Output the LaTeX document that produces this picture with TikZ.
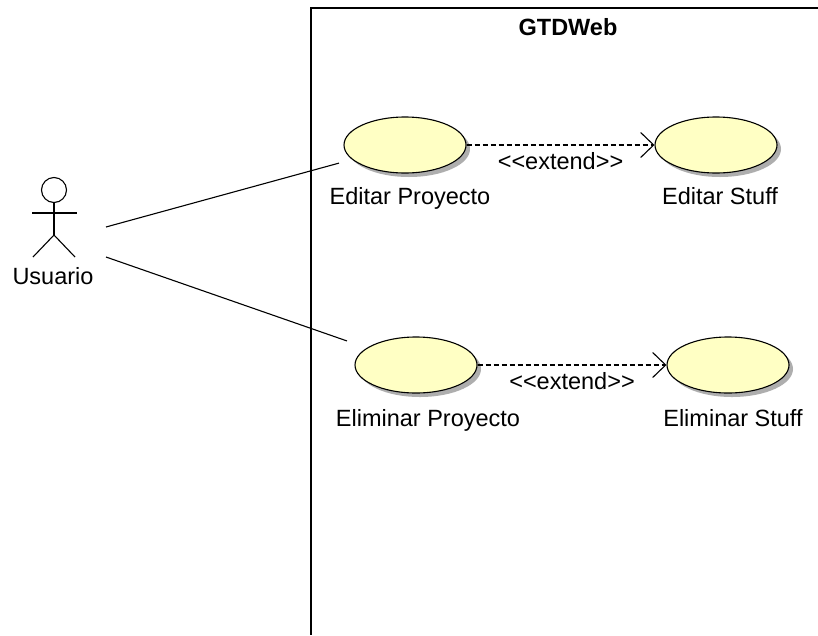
\documentclass[tikz,border=0pt]{standalone}
\usepackage{fontspec}
\setmainfont{Liberation Sans}[Ligatures=TeXOff]
\usetikzlibrary{arrows.meta,shadows,shapes.geometric}
\definecolor{ucfill}{HTML}{FFFFC4}
\begin{document}
\begin{tikzpicture}[x=1pt,y=-1pt,
  usecase/.style={ellipse,draw=black,line width=1.1pt,fill=ucfill,
    minimum width=122pt,minimum height=56pt,inner sep=0pt,
    drop shadow={shadow xshift=4pt,shadow yshift=-4pt,fill=black!45,opacity=0.7}},
  lbl/.style={anchor=base,font=\fontsize{23.5}{28}\selectfont,inner sep=0pt},
  assoc/.style={line width=1.1pt},
  extends/.style={line width=1.1pt,dash pattern=on 5pt off 3pt,
    -{Straight Barb[length=13pt,width=25pt]}},
  stick/.style={line width=1.1pt}]
\useasboundingbox (0,0) rectangle (818,635);
\fill[white] (0,0) rectangle (818,635);

% system boundary
\draw[line width=1.3pt] (818,8) -- (311,8) -- (311,635);
\node[lbl,font=\bfseries\fontsize{23.5}{28}\selectfont] (sys) at (568,35) {GTDWeb};

% actor
\node[circle,draw,stick,minimum size=25pt,inner sep=0pt] (head) at (54,190) {};
\draw[stick] (head.south) -- (54,235) coordinate (hip);
\draw[stick] (32,213) -- (77,213);
\draw[stick] (33,257) -- (hip) -- (75,257);
\node[lbl] (usuario) at (53,284) {Usuario};
\coordinate (a1) at (106,227);
\coordinate (a2) at (106,257);

% use cases
\node[usecase] (ep) at (405,145) {};
\node[usecase] (es) at (716,145) {};
\node[usecase] (elp) at (416,365) {};
\node[usecase] (els) at (728,365) {};

\node[lbl] (epl) at (410,204) {Editar Proyecto};
\node[lbl] (esl) at (720,204) {Editar Stuff};
\node[lbl] (elpl) at (428,426) {Eliminar Proyecto};
\node[lbl] (elsl) at (733,426) {Eliminar Stuff};

% associations
\draw[assoc,shorten >=13.5pt] (a1) -- (ep);
\draw[assoc,shorten >=21pt] (a2) -- (elp);

% extend relations
\draw[extends] (ep) -- node[lbl,pos=0.5,yshift=-24pt] (x1) {<\kern0pt<extend>\kern0pt>} (es);
\draw[extends] (elp) -- node[lbl,pos=0.5,yshift=-24pt] (x2) {<\kern0pt<extend>\kern0pt>} (els);
\end{tikzpicture}
\end{document}
